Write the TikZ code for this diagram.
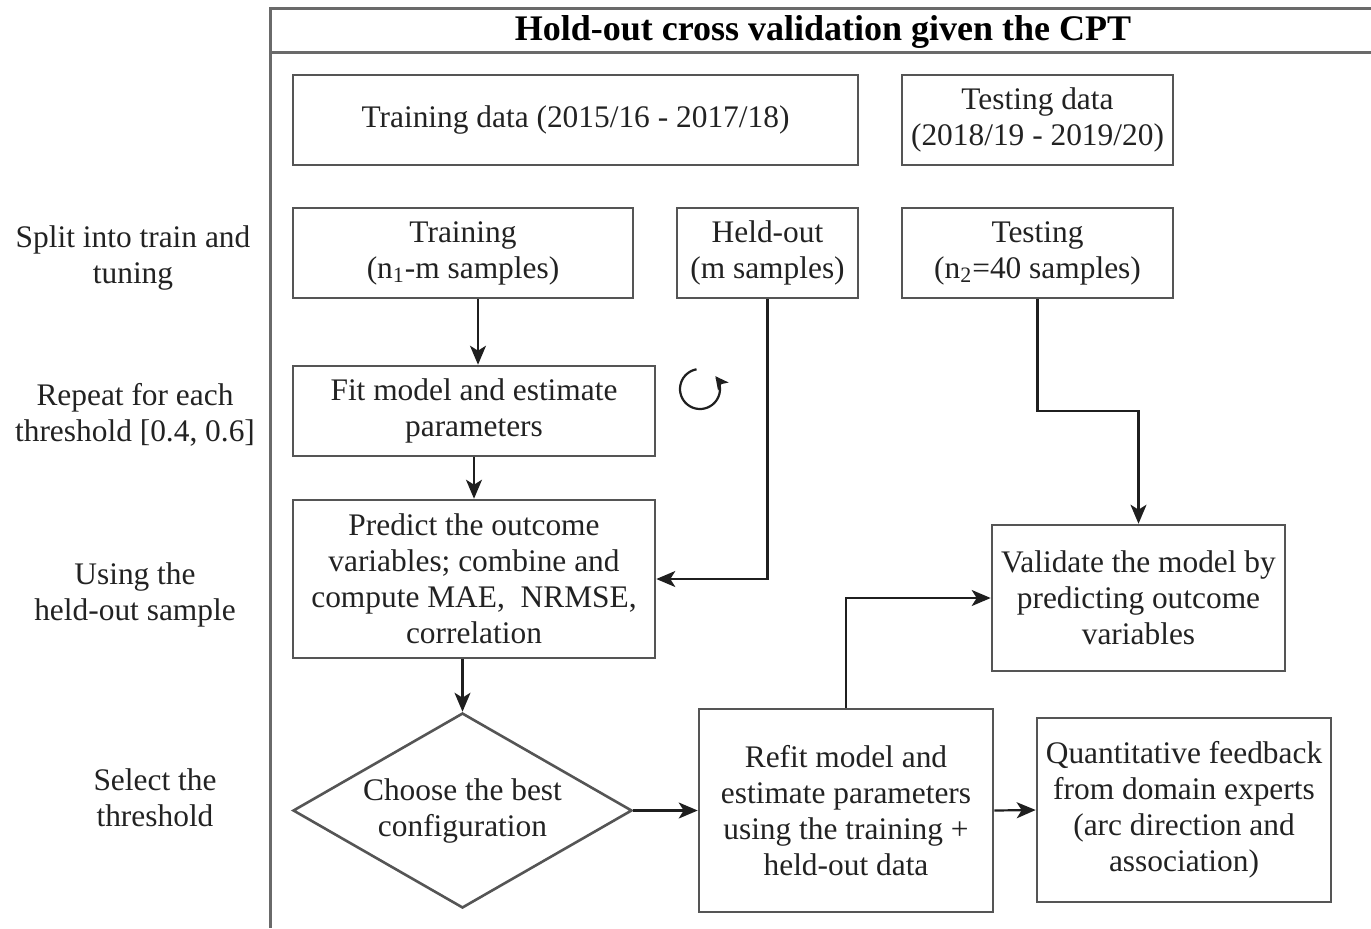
\documentclass[tikz,border=0pt]{standalone}
\usepackage{fontspec}
\setmainfont{Liberation Serif}
\usetikzlibrary{shapes.geometric,arrows.meta}
\definecolor{boxgray}{HTML}{555555}
\definecolor{framegray}{HTML}{6A6A6A}
\definecolor{txt}{HTML}{222222}
\begin{document}
\begin{tikzpicture}[x=0.5pt,y=-0.5pt,
  fs/.style={font=\fontsize{15.7}{18}\selectfont},
  box/.style={draw=boxgray, line width=1.3pt, align=center, inner sep=0pt, fs, text=txt},
  lbl/.style={align=center, inner sep=0pt, fs, text=txt},
  arr/.style={draw=black!88, line width=1.1pt, -{Stealth[length=9.5pt,width=8pt,inset=2.5pt]}}]
\useasboundingbox (0,0) rectangle (1371,928);
% frame
\draw[framegray, line width=1.5pt] (1371,8) -- (270,8) -- (270,928);
\draw[framegray, line width=1.5pt] (270,52) -- (1371,52);
\node[lbl, font=\fontsize{18}{20}\selectfont\bfseries, text=black] (title) at (823,32) {Hold-out cross validation given the CPT};
% boxes
\node[box, minimum width=282.5pt, minimum height=45pt] (tdata) at (575.5,120) {Training data (2015/16 - 2017/18)};
\node[box, minimum width=135.5pt, minimum height=45pt] (sdata) at (1037.5,120) {Testing data\\(2018/19 - 2019/20)};
\node[box, minimum width=170pt, minimum height=45pt] (train) at (463,253) {Training\\(n\textsubscript{1}-m samples)};
\node[box, minimum width=90.5pt, minimum height=45pt] (held) at (767.5,253) {Held-out\\(m samples)};
\node[box, minimum width=135.5pt, minimum height=45pt] (test) at (1037.5,253) {Testing\\(n\textsubscript{2}=40 samples)};
\node[box, minimum width=181pt, minimum height=45pt] (fit) at (474,411) {Fit model and estimate\\parameters};
\node[box, minimum width=181pt, minimum height=79pt] (pred) at (474,579) {Predict the outcome\\variables; combine and\\compute MAE,\ \ NRMSE,\\correlation};
\node[box, shape=diamond, aspect=1.74, minimum width=169.5pt, minimum height=97.5pt] (diam) at (462.5,810.5) {Choose the best\\configuration};
\node[box, minimum width=147pt, minimum height=101.5pt] (refit) at (846,810.5) {Refit model and\\estimate parameters\\using the training +\\held-out data};
\node[box, minimum width=146.5pt, minimum height=73pt] (val) at (1138.5,598) {Validate the model by\\predicting outcome\\variables};
\node[box, minimum width=147pt, minimum height=92pt] (quant) at (1184,810) {Quantitative feedback\\from domain experts\\(arc direction and\\association)};
% left labels
\node[lbl] (l1) at (133,258) {Split into train and\\tuning};
\node[lbl] (l2) at (135,415) {Repeat for each\\threshold [0.4, 0.6]};
\node[lbl] (l3) at (135,595) {Using the\\held-out sample};
\node[lbl] (l4) at (155,798) {Select the\\threshold};
% rotate icon
\draw[black!88, line width=1.1pt, -{Stealth[length=6.5pt,width=6.5pt,inset=1.5pt]}]
  plot[domain=100:400, samples=40, smooth] ({700+20*cos(\x)},{389-20*sin(\x)});
% connectors
\draw[arr] ([xshift=2pt]fit.north |- train.south) -- ([xshift=2pt]fit.north);
\draw[arr] (fit.south) -- (pred.north);
\draw[arr] (held.south) |- (pred.east);
\draw[arr] (test.south) -- ++(0,112) -| (val.north);
\draw[arr] (diam.north |- pred.south) -- (diam.north);
\draw[arr] (diam.east) -- (refit.west);
\draw[arr] (refit.north) |- (val.west);
\draw[arr] (refit.east) -- (quant.west);
\end{tikzpicture}
\end{document}
